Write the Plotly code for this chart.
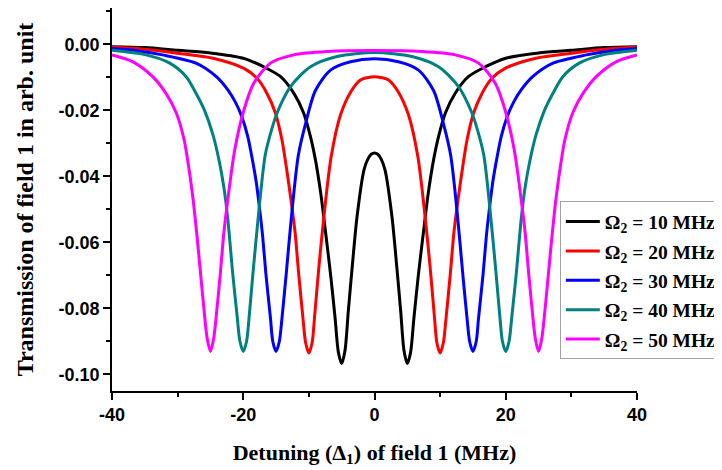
import plotly.graph_objects as go

# detuning (MHz) and transmission values, one pair of lists per curve
x_10 = [-40, -35, -30, -25, -20, -17, -14.3, -12.3, -10.8, -9.75, -9.0, -8.2, -7.45, -6.65, -6.0, -5.5, -5.0,
        -4.5, -4.0, -3.4, -2.65, -1.6, -1.0, -0.5, 0,
        0.5, 1.0, 1.6, 2.65, 3.4, 4.0, 4.5, 5.0, 5.5, 6.0, 6.65, 7.45, 8.2, 9.0, 9.75, 10.8, 12.3, 14.3,
        17, 20, 25, 30, 35, 40]
y_10 = [-0.0007, -0.0010, -0.0018, -0.0026, -0.0042, -0.0067, -0.0098, -0.0148, -0.0208, -0.028, -0.035,
        -0.045, -0.057, -0.0705, -0.083, -0.0933, -0.0967,
        -0.0928, -0.081, -0.0675, -0.052, -0.038, -0.0347, -0.0333, -0.0329,
        -0.0333, -0.0347, -0.038, -0.052, -0.0675, -0.081, -0.0928, -0.0967, -0.0933, -0.083, -0.0705, -0.057,
        -0.045, -0.035, -0.028, -0.0208, -0.0148, -0.0098, -0.0067, -0.0042, -0.0026, -0.0018, -0.0010, -0.0007]

x_20 = [-40, -35, -30, -24.6, -19.9, -17.9, -16.4, -15.1, -14.1, -13.6, -12.8, -12.1, -11.55, -10.9, -10.5, -10,
        -9.5, -9.15, -8.5, -7.7, -6.6, -5.2, -3.65, -2.15, -1.1, 0,
        1.1, 2.15, 3.65, 5.2, 6.6, 7.7, 8.5, 9.15, 9.5, 10, 10.5, 10.9, 11.55, 12.1, 12.8, 13.6, 14.1, 15.1,
        16.4, 17.9, 19.9, 24.6, 30, 35, 40]
y_20 = [-0.0009, -0.0015, -0.0027, -0.0042, -0.0073, -0.0103, -0.0148, -0.0208, -0.029, -0.035, -0.046,
        -0.057, -0.0695, -0.083, -0.0903, -0.0935,
        -0.0903, -0.083, -0.068, -0.052, -0.034, -0.0215, -0.0145, -0.0108, -0.0101, -0.0098,
        -0.0101, -0.0108, -0.0145, -0.0215, -0.034, -0.052, -0.068, -0.083, -0.0903, -0.0935, -0.0903, -0.083,
        -0.0695, -0.057, -0.046, -0.035, -0.029, -0.0208, -0.0148, -0.0103, -0.0073, -0.0042, -0.0027, -0.0015,
        -0.0009]

x_30 = [-40, -36, -32.3, -27.2, -24.1, -22.35, -21.2, -20.2, -19.3, -18.6, -18.0, -17.5, -17.05, -16.55,
        -15.85, -15.5, -15, -14.5, -14.1, -13.45, -12.55, -11.6, -10.5, -9.0, -6.7, -3.65, 0,
        3.65, 6.7, 9.0, 10.5, 11.6, 12.55, 13.45, 14.1, 14.5, 15, 15.5, 15.85, 16.55, 17.05, 17.5, 18.0, 18.6,
        19.3, 20.2, 21.2, 22.35, 24.1, 27.2, 32.3, 36, 40]
y_30 = [-0.0013, -0.0020, -0.0032, -0.0057, -0.0098, -0.0138, -0.0175, -0.022, -0.028, -0.035, -0.042, -0.050,
        -0.058, -0.0695, -0.083, -0.090, -0.093, -0.090, -0.083, -0.0695, -0.050, -0.0335, -0.024, -0.014,
        -0.0078, -0.0053, -0.0044,
        -0.0053, -0.0078, -0.014, -0.024, -0.0335, -0.050, -0.0695, -0.083, -0.090, -0.093, -0.090, -0.083,
        -0.0695, -0.058, -0.050, -0.042, -0.035, -0.028, -0.022, -0.0175, -0.0138, -0.0098, -0.0057, -0.0032,
        -0.0020, -0.0013]

x_40 = [-40, -34.8, -31.2, -28.7, -27.2, -25.9, -24.6, -23.6, -22.9, -22.35, -21.6, -20.95, -20.5, -20,
        -19.5, -19.1, -18.55, -17.6, -16.65, -15.7, -14.85, -12.8, -9.75, -5.7, 0,
        5.7, 9.75, 12.8, 14.85, 15.7, 16.65, 17.6, 18.55, 19.1, 19.5, 20, 20.5, 20.95, 21.6, 22.35, 22.9, 23.6,
        24.6, 25.9, 27.2, 28.7, 31.2, 34.8, 40]
y_40 = [-0.0018, -0.0032, -0.0057, -0.0098, -0.0148, -0.020, -0.0275, -0.036, -0.044, -0.053, -0.0695,
        -0.082, -0.090, -0.093, -0.090, -0.0825, -0.070, -0.050, -0.0335, -0.026, -0.0208, -0.0128, -0.0068,
        -0.0037, -0.0025,
        -0.0037, -0.0068, -0.0128, -0.0208, -0.026, -0.0335, -0.050, -0.070, -0.0825, -0.090, -0.093, -0.090,
        -0.082, -0.0695, -0.053, -0.044, -0.036, -0.0275, -0.020, -0.0148, -0.0098, -0.0057, -0.0032, -0.0018]

x_50 = [-40, -36.8, -33.8, -31.8, -30.2, -29.0, -28.4, -27.7, -27.1, -26.5, -26.0, -25.5, -25, -24.5, -24.0,
        -23.5, -22.95, -22.35, -21.3, -19.9, -18.4, -15.85, -12.3, -7.2, 0,
        7.2, 12.3, 15.85, 18.4, 19.9, 21.3, 22.35, 22.95, 23.5, 24.0, 24.5, 25, 25.5, 26.0, 26.5, 27.1, 27.7,
        28.4, 29.0, 30.2, 31.8, 33.8, 36.8, 40]
y_50 = [-0.0032, -0.0053, -0.0098, -0.0148, -0.0208, -0.029, -0.036, -0.046, -0.057, -0.0695, -0.080, -0.089,
        -0.093, -0.089, -0.080, -0.0695, -0.057, -0.047, -0.032, -0.0199, -0.0118, -0.0057, -0.0032, -0.0022,
        -0.0019,
        -0.0022, -0.0032, -0.0057, -0.0118, -0.0199, -0.032, -0.047, -0.057, -0.0695, -0.080, -0.089, -0.093,
        -0.089, -0.080, -0.0695, -0.057, -0.046, -0.036, -0.029, -0.0208, -0.0148, -0.0098, -0.0053, -0.0032]

labels = ["Ω<sub>2</sub> = 10 MHz", "Ω<sub>2</sub> = 20 MHz", "Ω<sub>2</sub> = 30 MHz",
          "Ω<sub>2</sub> = 40 MHz", "Ω<sub>2</sub> = 50 MHz"]
colors = ["#000000", "#FF0000", "#0000FF", "#008080", "#FF00FF"]

x_ticks = [-40, -20, 0, 20, 40]
x_ticktext = ["-40", "-20", "0", "20", "40"]
y_ticks = [0.0, -0.02, -0.04, -0.06, -0.08, -0.10]
y_ticktext = ["0.00", "-0.02", "-0.04", "-0.06", "-0.08", "-0.10"]

serif = "Liberation Serif, Times New Roman, serif"
sans = "Liberation Sans, Arial, sans-serif"

fig = go.Figure()
series = [(x_10, y_10), (x_20, y_20), (x_30, y_30), (x_40, y_40), (x_50, y_50)]
for i, ((xs, ys), name, col) in enumerate(zip(series, labels, colors)):
    # one legend group per trace so tracegroupgap spreads the legend rows
    fig.add_trace(go.Scatter(x=xs, y=ys, name=name, mode="lines", legendgroup=f"g{i}",
                             line=dict(color=col, width=3, shape="spline", smoothing=0.8)))

axis_common = dict(showline=True, linecolor="black", linewidth=1.6, showgrid=False, zeroline=False,
                   automargin=False, ticks="outside", ticklen=7, tickwidth=1.5, tickcolor="black",
                   tickfont=dict(family=sans, size=18, color="black", weight="bold"))

fig.update_xaxes(range=[-40, 40], tickvals=x_ticks, ticktext=x_ticktext,
                 minor=dict(dtick=10, ticklen=4, tickwidth=1.5, tickcolor="black", ticks="outside"),
                 title=dict(text="Detuning (Δ<sub>1</sub>) of field 1 (MHz)", standoff=20,
                            font=dict(family=serif, size=22, color="black", weight="bold")),
                 **axis_common)
fig.update_yaxes(range=[-0.105, 0.011], tickvals=y_ticks, ticktext=y_ticktext,
                 minor=dict(tickvals=[0.01, -0.01, -0.03, -0.05, -0.07, -0.09], ticklen=4, tickwidth=1.5,
                            tickcolor="black", ticks="outside"),
                 title=dict(text="Transmission of field 1 in arb. unit", standoff=18,
                            font=dict(family=serif, size=24, color="black", weight="bold")),
                 **axis_common)

# the page body adds an 8px offset, so the figure is drawn 8px smaller than the window
fig.update_layout(
    width=714, height=462,
    margin=dict(l=104, r=81, t=0, b=79),
    plot_bgcolor="white", paper_bgcolor="white",
    legend=dict(x=0.853, y=0.495, xanchor="left", yanchor="top",
                bgcolor="white", bordercolor="#a0a0a0", borderwidth=1,
                font=dict(family=serif, size=19.5, color="black", weight="bold"),
                itemwidth=34, tracegroupgap=1),
)

fig.write_html("out.html")
